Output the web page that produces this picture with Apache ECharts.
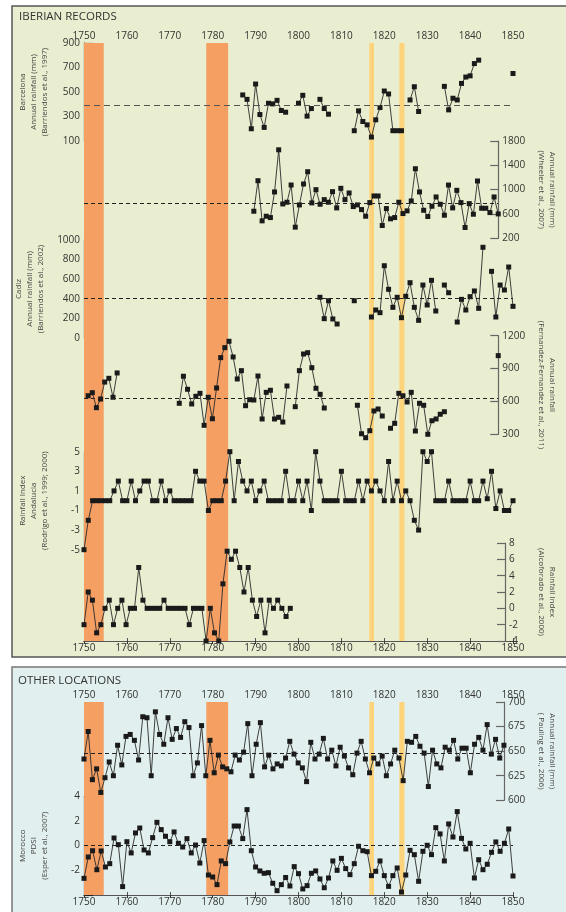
<!DOCTYPE html>
<html>
<head>
<meta charset="utf-8">
<script src="https://cdn.jsdelivr.net/npm/echarts@6/dist/echarts.min.js"></script>
<style>
  html, body { margin: 0; padding: 0; background: #fff; }
  #chart { width: 566px; height: 912px; }
</style>
</head>
<body>
<div id="chart"></div>
<script>
// ---- data (one value per year, null = no record) ----
const barcelonaStart = 1787;
const barcelona = [476, 440, 200, 565, 316, 211, 408, 403, 432, 349, 335, null, null, 408, 473, 303, 365, null,
  440, 365, 319, null, null, null, null, null, 184, 346, 259, 232, 132, 273, 373, 508, 484, 184, 184, 184, null,
  435, 543, 341, null, null, null, null, null, 546, 354, 449, 435, 570, 622, 632, 732, 760,
  null, null, null, null, null, null, null, 651];

const wheelerStart = 1791;
const wheeler = [645, 1147, 487, 563, 541, 962, 1655, 765, 793, 1076, 383, 749, 1093, 1295, 782, 1000, 760, 836,
  793, 967, 700, 1022, 836, 945, 722, 749, 672, 563, 787, 896, 896, 410, 689, 520, 541, 793, 607, 651, 814, 1344,
  962, 661, 558, 727, 880, 760, 580, 1076, 700, 989, 787, 378, 770, 596, 1142, 694, 694, 623, 880, 601];

const cadizStart = 1805;
const cadiz = [416, 199, 381, 196, 145, null, null, null, 381, null, null, null, 216, 287, 260, 736, 497, 314, 416,
  209, 426, 564, 314, 182, 540, 338, 588, 277, null, 540, 462, null, 165, 395, 287, 422, 480, 304, 923, null,
  679, 216, 540, 490, 723, 324];

const fernandezStart = 1751;
const fernandez = [652, 680, 543, 622, 777, 811, 638, 860,
  null, null, null, null, null, null, null, null, null, null, null, null, null, null,
  583, 830, 711, 577, 647, 674, 382, 638, 442, 723, 1000, 1091, 1149, 1006, 805, 881, 561, 616, 613, 832, 440,
  683, 702, 440, 455, 412, 741, null, 552, 881, 1033, 1045, 908, 720, 665, 540,
  null, null, null, null, null, null, null,
  565, 305, 269, 333, 513, 531, 467, null, 355, 400, 674, 652, 595, 683, 330, 583, 565, 300, 424, 440, 483, 506,
  null, null, null, null, null, null, null, null, null, null, null, null, 1018];

const rodrigoStart = 1750;
const rodrigo = [-5, -2, 0, 0, 0, 0, 0, 1, 2, 0, 0, 2, 0, 1, 2, 2, 0, 0, 2, 0, 1, 0, 0, 0, 0, 0, 3, 2, 2, -1,
  0, 0, 0, 2, 5, 0, 4, 2, 1, 2, 0, 1, 2, 0, 0, 0, 0, 3, 0, 0, 2, 0, 2, -1, 5, 2, 0, 0, 0, 0, 3, 0, 0, 0, 2, 0,
  2, 1, 2, 1, 0, 4, 0, 2, 0, 1, 0, -2, -3, 5, 4, 5, 0, 0, 0, 2, 0, 0, 0, 0, 2, 0, 0, 2, 0.2, 3, -0.8, 1, -1, -1, 0];

const alcoforadoStart = 1750;
const alcoforado = [-2, 2, 1, -3, -2, 0, 1, -2, 0, 1, -2, 0, 0, 5, 1, 0, 0, 0, 0, 1, 0, 0, 0, 0, 0, -2, 0, 0, 0,
  -4, 0, -3, -4, 3, 7, 6, 7, 5, 2, 5, 1, -1, 1, -3, 1, 0, 1, 0, -1, 0];

const paulingStart = 1750;
const pauling = [642, 670, 621, 632, 608, 623, 639, 625, 656, 636, 665, 667, 661, 641, 685, 684, 625, 690, 667, 657,
  684, 662, 673, 664, 680, 674, 625, 638, 676, 625, 661, 628, 646, 634, 632, 629, 646, 641, 649, 678,
  625, 657, 679, 634, 646, 632, 637, 635, 643, 660, 647, 638, 633, 619, 659, 642, 647, 663, 642, 651,
  635, 654, 645, 633, 626, 648, 660, 642, 628, 643, 637, 645, 625, 637, 651, 643, 620, 660, 659, 665,
  655, 648, 614, 651, 637, 633, 654, 651, 661, 642, 653, 653, 628, 657, 664, 651, 677, 647, 662, 643, 656];

const moroccoStart = 1750;
const morocco = [-2.65, -0.92, -0.41, -1.95, -0.43, -1.73, -1.46, 0.62, 0.08, -3.32, 0.32, -0.59, 1.03, 1.43, -0.35,
  -0.59, 0.65, 1.89, 1.30, 0.76, 0.32, 1.11, 0.19, -0.11, 0.57, -0.59, 0.05, -1.41, 0.41, -2.38,
  -2.54, -3.16, -1.24, -1.46, 0.30, 1.59, 1.59, 0.57, 2.92, -0.41, -1.73, -2.05, -2.24, -2.19, -3.05,
  -3.65, -3.16, -2.58, -3.27, -1.70, -2.27, -3.51, -3.24, -2.24, -2.05, -2.70, -3.41, -2.62, -1.24, -2.0,
  -1.03, -1.86, -2.35, -1.46, -0.05, -0.41, -0.49, -2.43, -2.08, -1.24, -2.43, -3.30, -2.43, -1.81, -3.76,
  -2.38, -0.38, -0.73, -2.89, -0.46, 0.03, -0.73, 1.46, 0.95, -1.24, 1.76, 0.70, 2.76, 0.59, -0.27,
  0.19, -2.62, -1.14, -1.95, -1.51, -0.54, 0.30, -0.46, 0.19, 1.35, -2.46];

// long-term means (dashed lines)
const barcelonaMean = 390, wheelerMean = 780, cadizMean = 405, fernandezMean = 625, paulingMean = 648, moroccoMean = 0;

// event bands [from, to] in years
const orangeBands = [[1749.5, 1754.6], [1778.5, 1783.6]];
const yellowBands = [[1816.5, 1817.6], [1823.5, 1824.7]];

// ---- chart ----
const FONT = '"Open Sans", "DejaVu Sans", sans-serif';
const chart = echarts.init(document.getElementById('chart'));
const plain = v => String(v); // no thousands separators

const L = 84, R = 53; // plot area left/right
const grids = [
  { top: 43, height: 598 },     // 0 iberian background
  { top: 43, height: 98 },      // 1 barcelona
  { top: 141, height: 97.3 },   // 2 wheeler
  { top: 239.7, height: 98.6 }, // 3 cadiz
  { top: 335.7, height: 98.6 }, // 4 fernandez
  { top: 451.7, height: 98 },   // 5 rodrigo
  { top: 543, height: 98 },     // 6 alcoforado
  { top: 702, height: 193 },    // 7 other background
  { top: 702, height: 98.3 },   // 8 pauling
  { top: 796.3, height: 98.7 }, // 9 morocco
].map(g => ({ left: L, right: R, top: g.top, height: g.height }));

function pts(start, vals) {
  return vals.map((v, i) => [start + i, v == null ? '-' : v]);
}

const xLabel = { fontSize: 10, color: '#333', fontFamily: FONT, margin: 2, formatter: plain };
const xAxes = [];
grids.forEach((g, i) => {
  const bg = i === 0 || i === 7;
  xAxes.push({
    type: 'value', gridIndex: i, min: 1750, max: 1850, interval: 10,
    position: 'top', show: bg,
    axisLine: { lineStyle: { color: '#333', width: 1.2 } },
    axisTick: { inside: true, length: 3, lineStyle: { color: '#333' } },
    axisLabel: xLabel, splitLine: { show: false }
  });
});
// bottom year axes for the two panels
[0, 7].forEach(gi => {
  xAxes.push({
    type: 'value', gridIndex: gi, min: 1750, max: 1850, interval: 10, position: 'bottom',
    axisLine: { lineStyle: { color: '#555', width: 1 } },
    axisTick: { inside: true, length: 3, lineStyle: { color: '#555' } },
    axisLabel: xLabel, splitLine: { show: false }
  });
});

function yAx(gi, side, min, max, interval, name, fmt) {
  return {
    type: 'value', gridIndex: gi, position: side, min, max, interval,
    name, nameLocation: 'middle', nameRotate: side === 'left' ? 90 : -90,
    nameGap: side === 'left' ? 34 : 31,
    nameTextStyle: { fontSize: 8, color: '#444', fontFamily: FONT, lineHeight: 11 },
    axisLine: { show: true, lineStyle: { color: side === 'left' ? '#222' : '#666', width: 1.2 } },
    axisTick: { show: true, inside: true, length: side === 'left' ? 9 : 8, lineStyle: { color: side === 'left' ? '#222' : '#666', width: 1.2 } },
    axisLabel: { fontSize: 10, color: '#333', fontFamily: FONT, margin: 4, formatter: fmt || plain },
    splitLine: { show: false }
  };
}
const hiddenY = gi => ({ type: 'value', gridIndex: gi, show: false, min: 0, max: 1, splitLine: { show: false } });

const yAxes = [
  hiddenY(0),
  yAx(1, 'left', 100, 900, 200, 'Barcelona\nAnnual rainfall (mm)\n(Barriendos et al., 1997)'),
  yAx(2, 'right', 200, 1800, 400, 'Annual rainfall (mm)\n(Wheeler et al., 2007)'),
  yAx(3, 'left', 0, 1000, 200, 'Cadiz\nAnnual rainfall (mm)\n(Barriendos et al., 2002)'),
  yAx(4, 'right', 300, 1200, 300, 'Annual rainfall\n(Fernandez-Fernandez et al., 2011)'),
  yAx(5, 'left', -5, 5, 2, 'Rainfall Index\nAndalucia\n(Rodrigo et al., 1999; 2000)'),
  yAx(6, 'right', -4, 8, 2, 'Rainfall Index\n(Alcoforado et al., 2000)'),
  hiddenY(7),
  yAx(8, 'right', 600, 700, 25, 'Annual rainfall (mm)\n( Pauling et al., 2006)'),
  yAx(9, 'left', -4, 4, 2, 'Morocco\nPDSI\n(Esper et al., 2007)', v => (v === -4 ? '' : String(v))),
];

function meanLine(v, color, dash) {
  return {
    silent: true, symbol: 'none', label: { show: false },
    lineStyle: { type: dash || [4, 3], color: color || '#222', width: 1 },
    data: [{ yAxis: v }]
  };
}

function lineSeries(gi, start, vals, mean, mlColor, mlDash) {
  const s = {
    type: 'line', xAxisIndex: gi, yAxisIndex: gi, data: pts(start, vals),
    symbol: 'rect', symbolSize: 5, showAllSymbol: true, clip: false, connectNulls: false,
    itemStyle: { color: '#1a1a1a' },
    lineStyle: { color: '#2a2a2a', width: 0.9 },
    z: 3, animation: false
  };
  if (mean != null) s.markLine = meanLine(mean, mlColor, mlDash);
  return s;
}

function bandSeries(gi) {
  return {
    type: 'line', xAxisIndex: gi, yAxisIndex: gi, data: [], z: 1, silent: true,
    markArea: {
      silent: true,
      data: orangeBands.map(b => [{ xAxis: b[0], itemStyle: { color: '#F59F63' } }, { xAxis: b[1] }])
        .concat(yellowBands.map(b => [{ xAxis: b[0], itemStyle: { color: '#FDD47C' } }, { xAxis: b[1] }]))
    }
  };
}

chart.setOption({
  animation: false,
  graphic: [
    { type: 'rect', z: -10, shape: { x: 12, y: 6, width: 600, height: 651 },
      style: { fill: '#E8EECF', stroke: '#555', lineWidth: 1.5 } },
    { type: 'rect', z: -10, shape: { x: 12, y: 667, width: 600, height: 260 },
      style: { fill: '#E1F0EE', stroke: '#777', lineWidth: 1.5 } },
    { type: 'text', left: 19, top: 11, z: 5,
      style: { text: 'IBERIAN RECORDS', fontSize: 11.5, fill: '#333', fontFamily: FONT } },
    { type: 'text', left: 18, top: 675, z: 5,
      style: { text: 'OTHER LOCATIONS', fontSize: 11.5, fill: '#333', fontFamily: FONT } }
  ],
  grid: grids,
  xAxis: xAxes,
  yAxis: yAxes,
  series: [
    bandSeries(0),
    bandSeries(7),
    lineSeries(1, barcelonaStart, barcelona, barcelonaMean, '#555', [6, 4]),
    lineSeries(2, wheelerStart, wheeler, wheelerMean),
    lineSeries(3, cadizStart, cadiz, cadizMean),
    lineSeries(4, fernandezStart, fernandez, fernandezMean),
    lineSeries(5, rodrigoStart, rodrigo),
    lineSeries(6, alcoforadoStart, alcoforado),
    lineSeries(8, paulingStart, pauling, paulingMean),
    lineSeries(9, moroccoStart, morocco, moroccoMean)
  ]
});
</script>
</body>
</html>
